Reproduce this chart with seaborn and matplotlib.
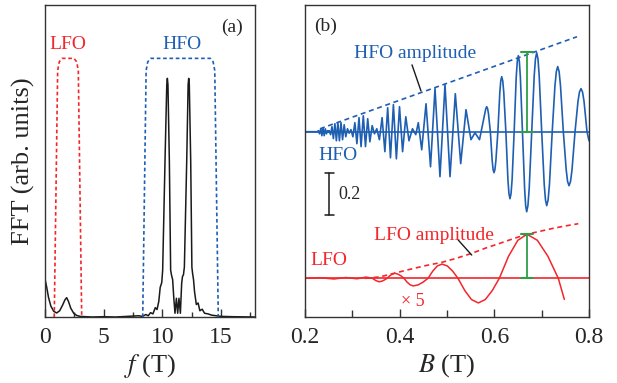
import numpy as np
import seaborn as sns
import matplotlib.pyplot as plt
from matplotlib.ticker import MultipleLocator

# ---- panel (a): FFT spectrum ----
fft_f = [0.0, 0.15, 0.3, 0.5, 0.75, 1.0, 1.25, 1.5, 1.7, 1.85, 2.0, 2.2, 2.45, 2.7, 3.0,
         3.5, 4.0, 5.0, 6.0, 7.0, 7.5, 8.0, 8.3, 8.6, 8.8, 9.0, 9.2, 9.4, 9.55, 9.7,
         9.82, 9.95, 10.03, 10.23, 10.38, 10.43, 10.48, 10.6, 10.71, 10.78, 10.88, 10.98,
         11.08, 11.2, 11.31, 11.42, 11.54, 11.65, 11.72, 11.8, 11.88, 12.08, 12.2, 12.25,
         12.3, 12.42, 12.52, 12.58, 12.66, 12.75, 12.9, 13.05, 13.2, 13.4, 13.6, 13.9,
         14.2, 14.6, 15.0, 16.0, 17.9]
fft_amp = [0.122, 0.095, 0.063, 0.035, 0.018, 0.013, 0.020, 0.038, 0.055, 0.062, 0.050,
           0.028, 0.012, 0.005, 0.002, 0.001, 0.0, 0.001, 0.0, 0.002, 0.003, 0.004, 0.002,
           0.008, 0.004, 0.014, 0.010, 0.030, 0.024, 0.050, 0.095, 0.110, 0.150, 0.500,
           0.745, 0.765, 0.745, 0.500, 0.150, 0.135, 0.120, 0.060, 0.012, 0.060, 0.012,
           0.060, 0.012, 0.108, 0.130, 0.135, 0.160, 0.500, 0.745, 0.765, 0.745, 0.500,
           0.160, 0.140, 0.120, 0.080, 0.040, 0.045, 0.020, 0.025, 0.012, 0.010, 0.006,
           0.004, 0.002, 0.001, 0.0]

# frequency windows (dashed boxes)
lfo_box_f = [0.79, 1.08, 1.22, 1.45, 2.47, 2.70, 2.84, 3.13]
hfo_box_f = [8.33, 8.62, 8.76, 9.00, 14.10, 14.33, 14.47, 14.77]
box_y = [0.0, 0.79, 0.818, 0.829, 0.829, 0.818, 0.79, 0.0]

# ---- panel (b): oscillations vs B ----
hfo = [(0.2000, 0.0), (0.2260, 0.0),
       (0.2285, 0.005), (0.2308, -0.010), (0.2334, 0.014), (0.2357, -0.019), (0.2380, 0.019),
       (0.2406, -0.019), (0.2429, 0.014), (0.2454, -0.010), (0.2478, 0.005), (0.2495, -0.002),
       (0.2511, 0.005), (0.2541, -0.014), (0.2570, 0.024), (0.2600, -0.033), (0.2632, 0.038),
       (0.2663, -0.043), (0.2695, 0.043), (0.2727, -0.043), (0.2761, 0.043), (0.2794, -0.038),
       (0.2828, 0.033), (0.2862, -0.024), (0.2898, 0.014), (0.2934, -0.007),
       (0.2972, 0.010), (0.3012, -0.024), (0.3054, 0.043), (0.3097, -0.057), (0.3141, 0.067),
       (0.3185, -0.071), (0.3232, 0.076), (0.3278, -0.071), (0.3325, 0.062), (0.3371, -0.048),
       (0.3420, 0.029), (0.3468, -0.010),
       (0.3517, 0.014), (0.3572, -0.038), (0.3629, 0.067), (0.3688, -0.095), (0.3747, 0.114),
       (0.3806, -0.124), (0.3868, 0.129), (0.3931, -0.129), (0.3997, 0.119), (0.4062, -0.095),
       (0.4130, 0.071), (0.4197, -0.043), (0.4271, 0.014), (0.4341, -0.014), (0.4394, 0.043),
       (0.4466, -0.086), (0.4557, 0.133), (0.4652, -0.167), (0.4747, 0.205), (0.4852, -0.214),
       (0.4958, 0.224), (0.5064, -0.214), (0.5176, 0.181), (0.5290, -0.152), (0.5402, 0.105),
       (0.5507, -0.038), (0.5592, -0.005), (0.5687, -0.038),
       (0.5820, 0.110), (0.5839, 0.119), (0.5858, 0.110), (0.5877, 0.085), (0.5916, 0.0),
       (0.5955, -0.138), (0.5974, -0.180), (0.5993, -0.195), (0.6013, -0.180), (0.6033, -0.138),
       (0.6075, 0.0), (0.6116, 0.186), (0.6136, 0.242), (0.6156, 0.262), (0.6178, 0.242),
       (0.6200, 0.186), (0.6244, 0.0), (0.6287, -0.227), (0.6309, -0.295), (0.6331, -0.319),
       (0.6353, -0.295), (0.6376, -0.227), (0.6419, 0.0), (0.6462, 0.257), (0.6485, 0.334),
       (0.6507, 0.362), (0.6529, 0.334), (0.6551, 0.257), (0.6595, 0.0), (0.6640, -0.270),
       (0.6662, -0.352), (0.6684, -0.381), (0.6710, -0.352), (0.6737, -0.270), (0.6790, 0.0),
       (0.6843, 0.267), (0.6869, 0.347), (0.6895, 0.376), (0.6922, 0.347), (0.6948, 0.267),
       (0.7001, 0.0), (0.7054, -0.250), (0.7081, -0.325), (0.7107, -0.352), (0.7136, -0.325),
       (0.7165, -0.250), (0.7223, 0.0), (0.7281, 0.219), (0.7310, 0.286), (0.7339, 0.310),
       (0.7369, 0.286), (0.7398, 0.219), (0.7458, 0.0), (0.7519, -0.182), (0.7548, -0.237),
       (0.7578, -0.257), (0.7610, -0.237), (0.7641, -0.182), (0.7705, 0.0), (0.7768, 0.145),
       (0.7799, 0.189), (0.7831, 0.205), (0.7863, 0.189), (0.7895, 0.145), (0.7958, 0.0),
       (0.8000, -0.043)]

lfo_b = [0.2000, 0.2317, 0.2613, 0.2866, 0.3099, 0.3289, 0.3363, 0.3426, 0.3500, 0.3563,
         0.3621, 0.3675, 0.3733, 0.3790, 0.3844, 0.3902, 0.3965, 0.4028, 0.4092, 0.4157,
         0.4223, 0.4288, 0.4392, 0.4495, 0.4599, 0.4698, 0.4795, 0.4895, 0.5007, 0.5121,
         0.5233, 0.5376, 0.5518, 0.5662, 0.5809, 0.5957, 0.6105, 0.6300, 0.6496, 0.6690,
         0.6910, 0.7132, 0.7352, 0.7479]
lfo_y = [0.0, 0.003, -0.003, 0.004, -0.002, 0.006, 0.003, 0.0, -0.011, -0.016,
         -0.014, -0.008, 0.0, 0.012, 0.020, 0.024, 0.020, 0.012, 0.0, -0.018,
         -0.031, -0.036, -0.031, -0.018, 0.0, 0.034, 0.059, 0.068, 0.059, 0.034,
         0.0, -0.058, -0.101, -0.117, -0.101, -0.058, 0.0, 0.105, 0.181, 0.210,
         0.181, 0.105, 0.0, -0.100]

hfo_env_b = [0.2317, 0.7747]
hfo_env_y = [0.014, 0.452]
lfo_env_b = [0.3268, 0.3585, 0.3880, 0.4218, 0.4535, 0.4888, 0.5190, 0.5522, 0.5803,
             0.6120, 0.6416, 0.6690, 0.6965, 0.7240, 0.7515, 0.7774]
lfo_env_y = [0.0, 0.007, 0.024, 0.043, 0.060, 0.076, 0.095, 0.119, 0.143,
             0.167, 0.190, 0.210, 0.224, 0.238, 0.250, 0.260]

amp_b = 0.669          # where the amplitudes are marked (green bars)
hfo_amp = 0.379
lfo_amp = 0.210
lfo_offset = -0.698    # vertical shift of the LFO trace
scale_b, scale_len = 0.2513, 0.2

sns.set_theme(style='ticks')
plt.rcParams['font.family'] = ['Liberation Serif', 'DejaVu Serif']
plt.rcParams['mathtext.fontset'] = 'stix'

BLUE = '#1f5fb2'
RED = '#f2262b'
GREEN = '#2f9e48'
SPINE = '#333333'


def line(ax, x, y, **kw):
    sns.lineplot(x=np.asarray(x), y=np.asarray(y), ax=ax, estimator=None, sort=False, **kw)
    return ax.lines[-1]


fig = plt.figure(figsize=(6.17, 3.83), dpi=100)
ax1 = fig.add_axes([0.0729, 0.1723, 0.3404, 0.8146])
ax2 = fig.add_axes([0.4943, 0.1723, 0.4603, 0.8146])

# (a)
line(ax1, fft_f, fft_amp, color='#1a1a1a', lw=1.1)
l = line(ax1, lfo_box_f, box_y, color=RED, lw=1.2)
l.set_dashes((2.2, 1.6))
l = line(ax1, hfo_box_f, box_y, color=BLUE, lw=1.2)
l.set_dashes((2.2, 1.6))
ax1.set_xlim(0, 17.9)
ax1.set_ylim(0, 1)
ax1.set_xticks([0, 5, 10, 15])
ax1.set_xticklabels(['0', '5', '10', '15'])
ax1.xaxis.set_minor_locator(MultipleLocator(2.5))
ax1.set_yticks([])
ax1.set_xlabel('$f$ (T)', fontsize=19, labelpad=3)
ax1.set_ylabel('FFT (arb. units)', fontsize=19, labelpad=7)
ax1.text(15.98, 0.929, '(a)', fontsize=14, ha='center', va='center')
ax1.text(1.92, 0.872, 'LFO', fontsize=14, color=RED, ha='center', va='center')
ax1.text(11.68, 0.872, 'HFO', fontsize=14, color=BLUE, ha='center', va='center')

# (b)
hb, hy = zip(*hfo)
ax2.axhline(0, color=BLUE, lw=1.2)
ax2.axhline(lfo_offset, color=RED, lw=1.2)
line(ax2, hb, hy, color=BLUE, lw=1.2)
line(ax2, lfo_b, np.asarray(lfo_y) + lfo_offset, color=RED, lw=1.1)
l = line(ax2, hfo_env_b, hfo_env_y, color=BLUE, lw=1.2)
l.set_dashes((3, 2.2))
l = line(ax2, lfo_env_b, np.asarray(lfo_env_y) + lfo_offset, color=RED, lw=1.2)
l.set_dashes((3, 2.2))

cap = 0.012
for base, top in [(0.0, hfo_amp), (lfo_offset, lfo_offset + lfo_amp)]:
    ax2.plot([amp_b, amp_b], [base, top], color=GREEN, lw=1.3)
    ax2.plot([amp_b - cap, amp_b + cap], [top, top], color=GREEN, lw=1.5)
    ax2.plot([amp_b - cap, amp_b + cap], [base, base], color=GREEN, lw=1.5)

# scale bar
ax2.plot([scale_b, scale_b], [-0.197, -0.197 - scale_len], color='#1a1a1a', lw=1.1)
for yy in (-0.197, -0.197 - scale_len):
    ax2.plot([scale_b - 0.0095, scale_b + 0.0095], [yy, yy], color='#1a1a1a', lw=1.1)
ax2.text(0.2704, -0.299, '0.2', fontsize=13, ha='left', va='center')

# leaders
ax2.plot([0.4261, 0.4451], [0.318, 0.194], color='#1a1a1a', lw=1.0)
ax2.plot([0.5239, 0.5522], [lfo_offset + 0.182, lfo_offset + 0.111], color='#1a1a1a', lw=1.0)

ax2.text(0.2429, 0.503, '(b)', fontsize=14, ha='center', va='center')
ax2.text(0.4318, 0.373, 'HFO amplitude', fontsize=14, color=BLUE, ha='center', va='center')
ax2.text(0.2687, -0.111, 'HFO', fontsize=14, color=BLUE, ha='center', va='center')
ax2.text(0.4732, lfo_offset + 0.206, 'LFO amplitude', fontsize=14, color=RED, ha='center', va='center')
ax2.text(0.2507, lfo_offset + 0.087, 'LFO', fontsize=14, color=RED, ha='center', va='center')
ax2.text(0.4282, lfo_offset - 0.111, '\u00d7 5', fontsize=13, color=RED, ha='center', va='center')

ax2.set_xlim(0.2, 0.8)
ax2.set_ylim(-0.882, 0.603)
ax2.set_xticks([0.2, 0.4, 0.6, 0.8])
ax2.set_xticklabels(['0.2', '0.4', '0.6', '0.8'])
ax2.xaxis.set_minor_locator(MultipleLocator(0.1))
ax2.set_yticks([])
ax2.set_xlabel('$B$ (T)', fontsize=19, labelpad=3)

for ax in (ax1, ax2):
    for s in ax.spines.values():
        s.set_color(SPINE)
        s.set_linewidth(1.0)
    ax.tick_params(axis='x', which='major', direction='in', length=5.5, width=1.0,
                   color=SPINE, labelsize=17, pad=7)
    ax.tick_params(axis='x', which='minor', direction='in', length=3.5, width=1.0, color=SPINE)
ax2.tick_params(axis='x', which='minor', length=5)

fig.savefig('out.png', dpi=100)
